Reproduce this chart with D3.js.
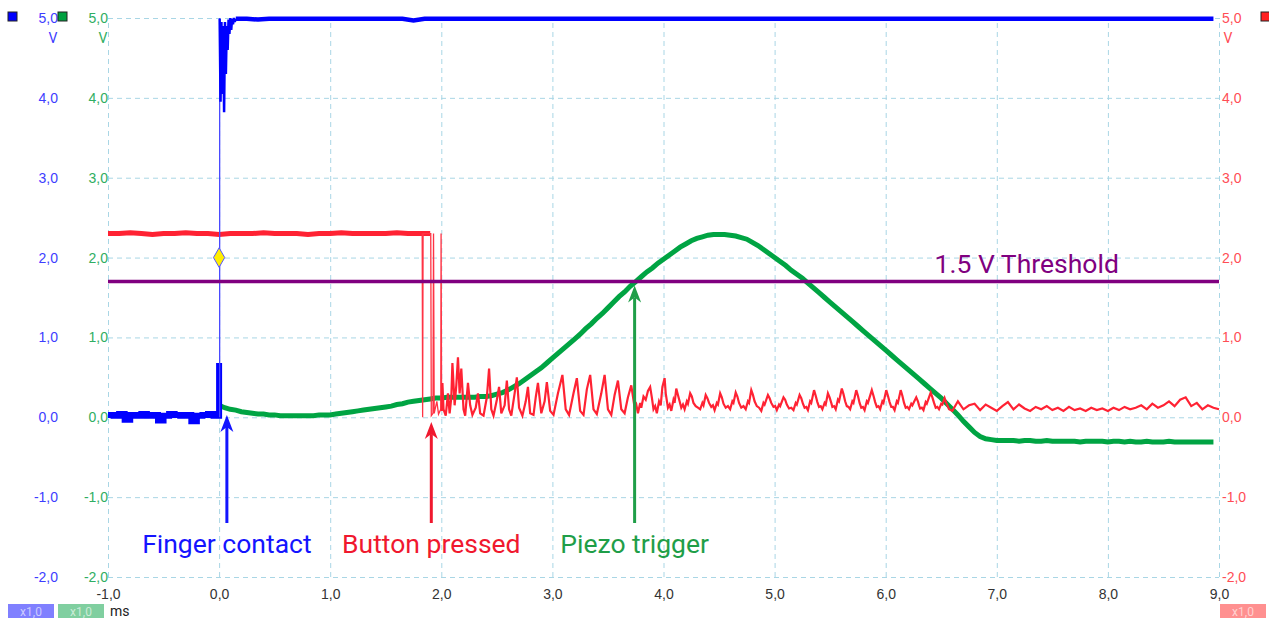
<!DOCTYPE html>
<html>
<head>
<meta charset="utf-8">
<script src="https://cdn.jsdelivr.net/npm/d3@7"></script>
<style>
  body { margin: 0; background: #fff; }
  svg { display: block; font-family: Roboto, "Open Sans", sans-serif; }
</style>
</head>
<body>
<div class="scope"></div>
<script>
// ---- data (time in ms, level in V) ----
const voltTicks = [-2, -1, 0, 1, 2, 3, 4, 5]
const timeTicks = [-1, 0, 1, 2, 3, 4, 5, 6, 7, 8, 9]

// channel A (blue) - finger contact
const blueLowStart = -1.0, blueLowStep = 0.05
const blueLow = [0.03, 0.02, 0.04, -0.03, 0.03, 0.02, 0.04, 0.02, 0.03, -0.04, 0.02,
  0.04, 0.03, 0.02, 0.03, -0.05, 0.02, 0.03, 0.04, 0.02, 0.68]
const blueRingStart = 0.005, blueRingStep = 0.008
const blueRing = [4.99, 3.95, 4.95, 4.05, 4.9, 3.82, 4.95, 4.3, 4.9, 4.6, 4.98, 4.8, 5.0, 4.85,
  4.99, 4.92, 5.0, 4.95, 4.99]
const blueHighStart = 0.15, blueHighStep = 0.1
const blueHigh = [4.99, 4.99, 4.98, 4.99, 4.99, 4.99, 4.99, 4.99, 4.99, 4.99, 4.99, 4.99, 4.99, 4.99,
  4.99, 4.99, 4.97, 4.99, 4.99, 4.99, 4.99, 4.99, 4.99, 4.99, 4.99, 4.99, 4.99, 4.99, 4.99, 4.99,
  4.99, 4.99, 4.99, 4.99, 4.99, 4.99, 4.99, 4.99, 4.99, 4.99, 4.99, 4.99, 4.99, 4.99, 4.99, 4.99,
  4.99, 4.99, 4.99, 4.99, 4.99, 4.99, 4.99, 4.99, 4.99, 4.99, 4.99, 4.99, 4.99, 4.99, 4.99, 4.99,
  4.99, 4.99, 4.99, 4.99, 4.99, 4.99, 4.99, 4.99, 4.99, 4.99, 4.99, 4.99, 4.99, 4.99, 4.99, 4.99,
  4.99, 4.99, 4.99, 4.99, 4.99, 4.99, 4.99, 4.99, 4.99, 4.99, 4.99]
const blueStepAt = 0.005

// channel B (green) - piezo
const greenStart = 0.0, greenStep = 0.05
const green = [
  0.15, 0.12, 0.10, 0.09, 0.07, 0.06, 0.05, 0.04, 0.04, 0.03, 0.03, 0.02, 0.02, 0.02, 0.02, 0.02,
  0.02, 0.02, 0.03, 0.03, 0.03, 0.04, 0.05, 0.06, 0.07, 0.08, 0.09, 0.10, 0.11, 0.12, 0.13, 0.14,
  0.16, 0.17, 0.19, 0.20, 0.21, 0.22, 0.23, 0.24, 0.24, 0.25, 0.25, 0.25, 0.25, 0.25, 0.25, 0.26,
  0.26, 0.27, 0.29, 0.31, 0.34, 0.38, 0.42, 0.47, 0.52, 0.57, 0.62, 0.68, 0.74, 0.80, 0.86, 0.92,
  0.98, 1.04, 1.11, 1.17, 1.24, 1.30, 1.37, 1.44, 1.51, 1.57, 1.64, 1.70, 1.76, 1.82, 1.87, 1.93,
  1.98, 2.03, 2.08, 2.13, 2.17, 2.21, 2.24, 2.26, 2.28, 2.29, 2.29, 2.29, 2.28, 2.27, 2.25, 2.23,
  2.19, 2.15, 2.10, 2.05, 2.00, 1.95, 1.90, 1.84, 1.79, 1.74, 1.68, 1.62, 1.56, 1.50, 1.44, 1.38,
  1.32, 1.26, 1.20, 1.14, 1.08, 1.02, 0.96, 0.90, 0.84, 0.78, 0.72, 0.66, 0.60, 0.54, 0.48, 0.42,
  0.36, 0.30, 0.24, 0.17, 0.10, 0.03, -0.05, -0.12, -0.19, -0.24, -0.27, -0.28, -0.29, -0.29, -0.29,
  -0.29, -0.30, -0.29, -0.29, -0.30, -0.30, -0.29, -0.30, -0.30, -0.30, -0.30, -0.30, -0.31, -0.30,
  -0.30, -0.30, -0.30, -0.31, -0.30, -0.30, -0.31, -0.30, -0.31, -0.31, -0.30, -0.31, -0.31, -0.31,
  -0.30, -0.31, -0.31, -0.31, -0.31, -0.31, -0.31, -0.31, -0.31]

// channel C (red) - button
const redHighStart = -1.0, redHighStep = 0.1
const redHigh = [2.30, 2.30, 2.31, 2.30, 2.29, 2.30, 2.30, 2.31, 2.30, 2.30, 2.29, 2.30, 2.30, 2.30,
  2.31, 2.30, 2.30, 2.30, 2.29, 2.30, 2.30, 2.31, 2.30, 2.30, 2.30, 2.30, 2.31, 2.30, 2.30, 2.30]
const redBounce = [[1.828, 2.30], [1.832, 0.00], [1.836, 2.30], [1.905, 2.30],
  [1.910, 0.02], [1.925, 0.05], [1.930, 2.30], [1.936, 0.05], [1.960, 0.20], [1.975, 0.04],
  [1.995, 0.10], [1.998, 2.30], [2.003, 0.08]]
const redOsc = [
  [2.01, 0.43], [2.02, 0.10], [2.04, 0.02], [2.06, 0.30], [2.075, 0.05], [2.09, 0.25], [2.10, 0.68],
  [2.12, 0.15], [2.135, 0.40], [2.15, 0.75], [2.165, 0.30], [2.18, 0.61], [2.20, 0.10], [2.215, 0.02],
  [2.24, 0.43], [2.26, 0.15], [2.28, 0.03], [2.31, 0.12], [2.33, 0.30], [2.35, 0.05], [2.38, 0.02],
  [2.41, 0.25], [2.43, 0.61], [2.45, 0.10], [2.47, 0.02], [2.50, 0.22], [2.52, 0.38], [2.54, 0.05],
  [2.57, 0.15], [2.59, 0.46], [2.61, 0.10], [2.63, 0.02], [2.66, 0.30], [2.68, 0.50], [2.70, 0.12],
  [2.73, 0.02], [2.76, 0.20], [2.78, 0.38], [2.80, 0.05], [2.83, 0.03], [2.85, 0.25], [2.87, 0.43],
  [2.90, 0.05], [2.93, 0.20], [2.95, 0.44], [2.98, 0.08], [3.01, 0.03], [3.05, 0.30], [3.09, 0.53],
  [3.12, 0.10], [3.15, 0.03], [3.19, 0.30], [3.22, 0.49], [3.25, 0.08], [3.28, 0.03], [3.31, 0.35],
  [3.34, 0.53], [3.37, 0.10], [3.40, 0.04], [3.44, 0.30], [3.47, 0.53], [3.50, 0.10], [3.53, 0.03],
  [3.56, 0.28], [3.59, 0.46], [3.62, 0.10], [3.65, 0.05], [3.68, 0.25], [3.71, 0.40],
  [3.74, 0.12], [3.755, 0.16], [3.77, 0.05], [3.79, 0.18], [3.80, 0.12], [3.82, 0.26], [3.84, 0.22],
  [3.86, 0.33], [3.88, 0.38], [3.895, 0.25], [3.91, 0.10], [3.925, 0.14], [3.94, 0.05], [3.96, 0.20],
  [3.975, 0.15], [3.99, 0.38], [4.01, 0.49], [4.02, 0.30], [4.04, 0.12], [4.055, 0.16], [4.07, 0.08],
  [4.09, 0.22], [4.10, 0.18], [4.115, 0.36], [4.13, 0.28], [4.145, 0.20], [4.16, 0.12], [4.175, 0.16],
  [4.19, 0.10], [4.21, 0.20], [4.22, 0.17], [4.24, 0.30], [4.255, 0.26], [4.27, 0.18], [4.29, 0.14],
  [4.31, 0.12], [4.33, 0.10], [4.35, 0.18], [4.36, 0.15], [4.38, 0.28], [4.395, 0.24], [4.41, 0.18],
  [4.43, 0.13], [4.445, 0.15], [4.46, 0.09], [4.48, 0.18], [4.49, 0.16], [4.51, 0.30], [4.525, 0.25],
  [4.54, 0.17], [4.56, 0.12], [4.58, 0.14], [4.60, 0.10], [4.62, 0.20], [4.63, 0.18], [4.65, 0.31],
  [4.665, 0.26], [4.68, 0.18], [4.70, 0.12], [4.72, 0.14], [4.74, 0.10], [4.76, 0.20], [4.77, 0.18],
  [4.79, 0.34], [4.805, 0.28], [4.82, 0.20], [4.84, 0.14], [4.86, 0.12], [4.88, 0.08], [4.90, 0.18],
  [4.91, 0.16], [4.94, 0.28], [4.955, 0.24], [4.97, 0.18], [4.99, 0.13], [5.005, 0.14], [5.02, 0.09],
  [5.04, 0.16], [5.05, 0.14], [5.08, 0.25], [5.095, 0.22], [5.11, 0.16], [5.13, 0.11], [5.15, 0.12],
  [5.17, 0.09], [5.19, 0.18], [5.20, 0.16], [5.225, 0.28], [5.24, 0.24], [5.255, 0.17], [5.27, 0.12],
  [5.285, 0.13], [5.30, 0.09], [5.32, 0.20], [5.33, 0.18], [5.355, 0.34], [5.37, 0.27], [5.385, 0.19],
  [5.40, 0.13], [5.415, 0.14], [5.43, 0.10], [5.45, 0.18], [5.46, 0.16], [5.48, 0.30], [5.495, 0.25],
  [5.51, 0.18], [5.52, 0.13], [5.535, 0.14], [5.55, 0.10], [5.57, 0.22], [5.58, 0.20], [5.605, 0.36],
  [5.62, 0.29], [5.635, 0.20], [5.65, 0.14], [5.665, 0.13], [5.68, 0.10], [5.70, 0.20], [5.71, 0.18],
  [5.735, 0.34], [5.75, 0.27], [5.765, 0.18], [5.78, 0.12], [5.795, 0.13], [5.81, 0.09], [5.83, 0.20],
  [5.84, 0.18], [5.875, 0.34], [5.89, 0.27], [5.905, 0.19], [5.92, 0.13], [5.935, 0.14], [5.95, 0.10],
  [5.97, 0.20], [5.98, 0.18], [6.005, 0.34], [6.02, 0.27], [6.035, 0.19], [6.05, 0.13], [6.065, 0.13],
  [6.08, 0.09], [6.10, 0.20], [6.11, 0.18], [6.135, 0.34], [6.15, 0.27], [6.165, 0.18], [6.18, 0.12],
  [6.195, 0.13], [6.21, 0.10], [6.23, 0.17], [6.24, 0.15], [6.275, 0.25], [6.29, 0.20], [6.30, 0.15],
  [6.31, 0.11], [6.325, 0.12], [6.34, 0.09], [6.36, 0.19], [6.37, 0.17], [6.405, 0.31], [6.42, 0.25],
  [6.435, 0.18], [6.45, 0.12], [6.465, 0.13], [6.48, 0.10], [6.50, 0.17], [6.51, 0.16], [6.53, 0.24],
  [6.545, 0.18], [6.57, 0.10], [6.60, 0.08]]
const redTailStart = 6.65, redTailStep = 0.05
const redTail = [0.20, 0.10, 0.15, 0.17, 0.09, 0.16, 0.12, 0.08, 0.14, 0.19, 0.10, 0.16, 0.11, 0.08,
  0.13, 0.10, 0.14, 0.09, 0.12, 0.08, 0.13, 0.09, 0.11, 0.08, 0.12, 0.09, 0.11, 0.08, 0.12, 0.09,
  0.13, 0.10, 0.12, 0.15, 0.10, 0.17, 0.12, 0.15, 0.20, 0.14, 0.22, 0.25, 0.14, 0.18, 0.10, 0.15,
  0.12, 0.10]

// threshold + markers
const threshold = 1.7
const thresholdLabel = '1.5 V Threshold'
const triggerPoint = [0.0, 2.0]
const markers = [
  { label: 'Finger contact', t: 0.07, tip: 0.08, color: '#1414ff' },
  { label: 'Button pressed', t: 1.91, tip: -0.01, color: '#f0182e' },
  { label: 'Piezo trigger', t: 3.74, tip: 1.70, color: '#1f9e48' }
]

// ---- drawing ----
var width = 1269
var height = 618

var svg = d3.select('.scope').append('svg')
  .attr('width', width)
  .attr('height', height)

var x = d3.scaleLinear().domain([-1, 9]).range([108, 1219])
var y = d3.scaleLinear().domain([-2, 5]).range([577, 18])

const loc = d3.formatLocale({ decimal: ',', thousands: '.', grouping: [3], currency: ['', ''], minus: '-' })
const fmt = loc.format('.1f')

// grid
svg.append('g').attr('class', 'grid')
  .attr('transform', 'translate(0,577)')
  .call(d3.axisBottom(x).tickValues(timeTicks).tickSize(-559).tickFormat(''))
svg.append('g').attr('class', 'grid')
  .attr('transform', 'translate(108,0)')
  .call(d3.axisLeft(y).tickValues(voltTicks).tickSize(-1111).tickFormat(''))
svg.selectAll('.grid .domain').remove()
svg.selectAll('.grid line')
  .attr('stroke', '#a9d6e5')
  .attr('stroke-dasharray', '5,4')

// axes labels
function tickAxis(axis, pos, color) {
  const g = svg.append('g').attr('transform', pos).call(axis)
  g.select('.domain').remove()
  g.selectAll('line').remove()
  g.selectAll('text').attr('fill', color).style('font-size', '14px')
  return g
}
tickAxis(d3.axisLeft(y).tickValues(voltTicks).tickSize(0).tickPadding(0).tickFormat(fmt), 'translate(58,0)', '#3d3dff')
tickAxis(d3.axisLeft(y).tickValues(voltTicks).tickSize(0).tickPadding(0).tickFormat(fmt), 'translate(108,0)', '#2fae62')
tickAxis(d3.axisRight(y).tickValues(voltTicks).tickSize(0).tickPadding(3).tickFormat(fmt), 'translate(1219,0)', '#ff4d55')
tickAxis(d3.axisBottom(x).tickValues(timeTicks).tickSize(0).tickPadding(12).tickFormat(fmt), 'translate(0,577)', '#333')

// unit labels + channel squares + badges
const units = [[53, '#3d3dff'], [103, '#2fae62'], [1228, '#ff4d55']]
units.forEach(u => {
  svg.append('text').attr('x', u[0]).attr('y', 43).attr('text-anchor', 'middle')
    .attr('fill', u[1]).style('font-size', '14px').text('V')
})
const squares = [[8, '#0000ff'], [58, '#00a040'], [1261, '#ff2020']]
squares.forEach(s => {
  svg.append('rect').attr('x', s[0]).attr('y', 12).attr('width', 9).attr('height', 9)
    .attr('fill', s[1]).attr('stroke', '#222').attr('stroke-width', 1)
})
const badges = [[8, '#8080ff'], [58, '#80cfa0'], [1220, '#ff9090']]
badges.forEach(b => {
  svg.append('rect').attr('x', b[0]).attr('y', 604).attr('width', 46).attr('height', 16).attr('fill', b[1])
  svg.append('text').attr('x', b[0] + 23).attr('y', 616).attr('text-anchor', 'middle')
    .attr('fill', '#fff').attr('fill-opacity', 0.6).style('font-size', '12px').text('x1,0')
})
svg.append('text').attr('x', 110).attr('y', 616).attr('fill', '#222').style('font-size', '14px').text('ms')

// traces
const line = d3.line().x(d => x(d[0])).y(d => y(d[1]))
const stepLine = d3.line().x(d => x(d[0])).y(d => y(d[1])).curve(d3.curveStepAfter)
const series = (start, step, vals) => vals.map((v, i) => [start + i * step, v])

function trace(pts, color, w, gen) {
  svg.append('path').attr('d', (gen || line)(pts))
    .attr('fill', 'none').attr('stroke', color).attr('stroke-width', w)
    .attr('stroke-linejoin', 'miter')
}

trace(series(greenStart, greenStep, green), '#00a443', 5)

trace(series(redHighStart, redHighStep, redHigh), '#ff2233', 5)
trace(redBounce, '#ff3344', 1.3)
trace([redBounce[redBounce.length - 1]].concat(redOsc).concat(series(redTailStart, redTailStep, redTail)), '#ff2233', 2.2)

trace(series(blueLowStart, blueLowStep, blueLow), '#0000ff', 6, stepLine)
trace([[blueStepAt, 0], [blueStepAt, 5]], '#4a4aff', 1.3)
trace(series(blueRingStart, blueRingStep, blueRing), '#0000ff', 2.5)
trace(series(blueHighStart, blueHighStep, blueHigh), '#0000ff', 4.5)

// threshold
svg.append('line')
  .attr('x1', x(-1)).attr('x2', x(9)).attr('y1', y(threshold)).attr('y2', y(threshold))
  .attr('stroke', '#800080').attr('stroke-width', 3.5)
svg.append('text').attr('x', x(6.44)).attr('y', y(threshold) - 9)
  .attr('fill', '#800080').style('font-size', '26.5px').text(thresholdLabel)

// trigger diamond
svg.append('path')
  .attr('d', d3.symbol(d3.symbolDiamond, 110)())
  .attr('transform', `translate(${x(triggerPoint[0])},${y(triggerPoint[1])})`)
  .attr('fill', '#ffee00').attr('stroke', '#5555ff').attr('stroke-width', 1)

// arrows + labels
markers.forEach(m => {
  const ax = x(m.t), tipY = y(m.tip) + 4
  svg.append('line').attr('x1', ax).attr('x2', ax).attr('y1', 523).attr('y2', tipY + 12)
    .attr('stroke', m.color).attr('stroke-width', 3)
  svg.append('path')
    .attr('d', `M${ax},${tipY} L${ax - 6.5},${tipY + 17} L${ax},${tipY + 12} L${ax + 6.5},${tipY + 17} Z`)
    .attr('fill', m.color)
  svg.append('text').attr('x', ax).attr('y', 553).attr('text-anchor', 'middle')
    .attr('fill', m.color).style('font-size', '26.5px').text(m.label)
})
</script>
</body>
</html>
